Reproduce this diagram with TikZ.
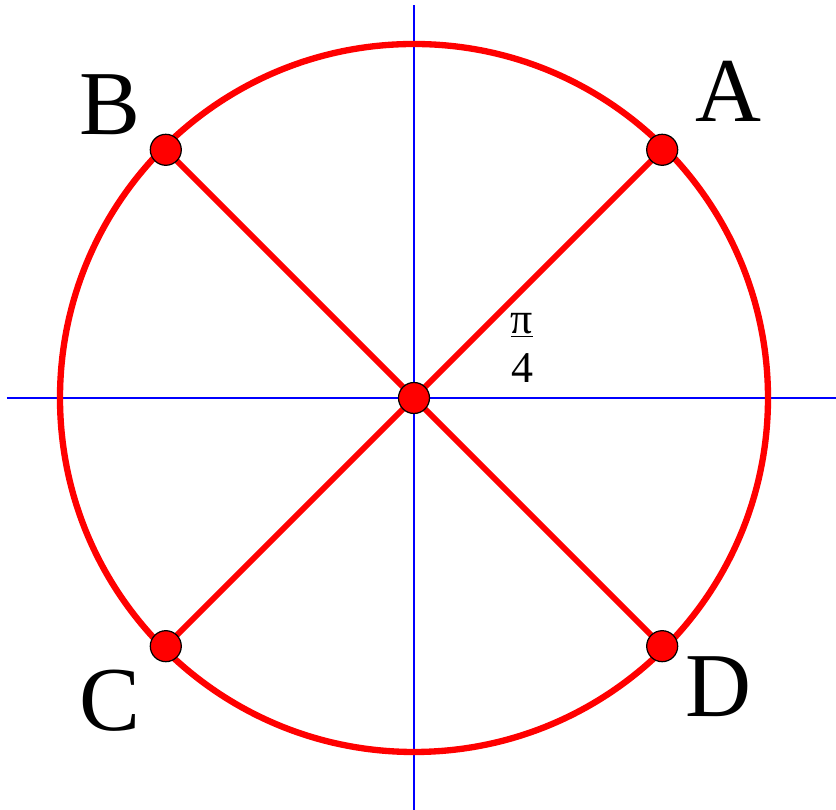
\documentclass[tikz,border=0pt]{standalone}
\usepackage{fontspec}
\setmainfont{Liberation Serif}
\usetikzlibrary{positioning}

\tikzset{
  axis/.style={blue, line width=1.5pt},
  ring/.style={red, line width=3.6pt},
  ray/.style={red, line width=3.3pt},
  dot/.style={circle, fill=red, draw=black, line width=0.7pt, minimum size=0.62cm, inner sep=0pt},
  lbl/.style={font=\fontsize{52}{52}\selectfont, inner sep=0pt},
  frac/.style={font=\fontsize{25}{28}\selectfont, align=center, inner sep=0pt}
}

\begin{document}
\begin{tikzpicture}[x=0.02cm, y=0.02cm]

  \useasboundingbox (-414,-412) rectangle (422,398);

  % ===== Ejes =====
  \coordinate (O) at (0,0);
  \coordinate (xl) at (-407,0);
  \coordinate (xr) at (422,0);
  \coordinate (yt) at (0,393);
  \coordinate (yb) at (0,-412);
  \draw[axis] (xl) -- (xr);
  \draw[axis] (yb) -- (yt);

  % ===== Circunferencia =====
  \draw[ring] (O) circle (354);

  % ===== Puntos sobre la circunferencia =====
  \coordinate (A) at (45:351);
  \coordinate (B) at (135:351);
  \coordinate (C) at (225:351);
  \coordinate (D) at (315:351);

  % Diagonales
  \draw[ray] (A) -- (C);
  \draw[ray] (B) -- (D);

  % Marcas
  \node[dot] (dotO) at (O) {};
  \node[dot] (dotA) at (A) {};
  \node[dot] (dotB) at (B) {};
  \node[dot] (dotC) at (C) {};
  \node[dot] (dotD) at (D) {};

  % Etiquetas
  \node[lbl] (labA) at ([shift={(66,58)}]dotA.center) {A};
  \node[lbl] (labB) at ([shift={(-56,45)}]dotB.center) {B};
  \node[lbl] (labC) at ([shift={(-56,-55)}]dotC.center) {C};
  \node[lbl] (labD) at ([shift={(56,-40)}]dotD.center) {D};

  % Angulo
  \node[frac] (quarter) at ([shift={(108,50)}]dotO.center) {\underline{π}\\4};
\end{tikzpicture}
\end{document}
